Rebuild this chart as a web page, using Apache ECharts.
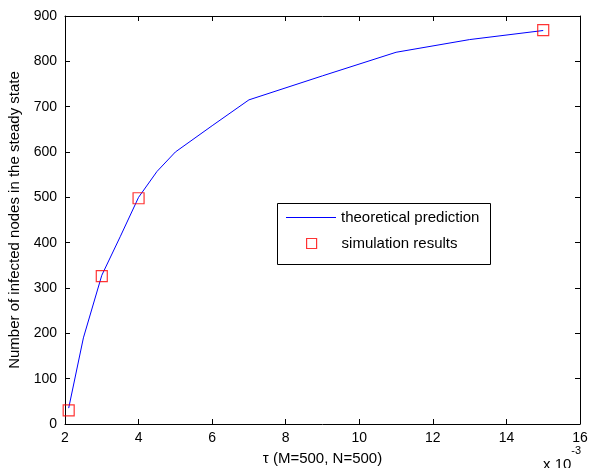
<!DOCTYPE html>
<html>
<head>
<meta charset="utf-8">
<script src="https://cdn.jsdelivr.net/npm/echarts@6/dist/echarts.min.js"></script>
<style>
  html, body { margin: 0; padding: 0; background: #fff; }
  #chart { width: 590px; height: 468px; }
</style>
</head>
<body>
<div id="chart"></div>
<script>
// theoretical curve (tau in units of 1e-3)
const theoryTau = [2.1, 2.5, 3, 3.5, 4, 4.5, 5, 6, 7, 9, 11, 13, 15]
const theoryVal = [35, 190, 328, 413, 500, 557, 600, 658, 715, 768, 820, 848, 868]
// simulation points
const simTau = [2.1, 3, 4, 15]
const simVal = [30, 326, 498, 869]
const xTicks = [2, 4, 6, 8, 10, 12, 14, 16]

const font = 'Liberation Sans, Arial, sans-serif'
const chart = echarts.init(document.getElementById('chart'))

const axisCommon = {
  axisLine: { show: true, onZero: false, lineStyle: { color: '#000', width: 1 } },
  axisTick: { show: true, inside: true, length: 5, lineStyle: { color: '#000' } },
  splitLine: { show: false }
}

const legendText = { fontFamily: font, fontSize: 15, color: '#000' }

const option = {
  animation: false,
  backgroundColor: '#fff',
  grid: { left: 65, right: 10, top: 16, bottom: 44, containLabel: false, outerBoundsMode: 'none' },
  xAxis: [
    Object.assign({
      type: 'value', min: 2, max: 16, interval: 2, position: 'bottom',
      name: 'τ (M=500, N=500)', nameLocation: 'middle', nameGap: 27,
      nameTextStyle: { fontFamily: font, fontSize: 15, color: '#000' },
      axisLabel: { fontFamily: font, fontSize: 14, color: '#000', margin: 7,
        formatter: v => xTicks.includes(v) ? String(v) : '' }
    }, axisCommon),
    Object.assign({
      type: 'value', min: 2, max: 16, interval: 2, position: 'top',
      axisLabel: { show: false }
    }, axisCommon)
  ],
  yAxis: [
    Object.assign({
      type: 'value', min: 0, max: 900, interval: 100, position: 'left',
      name: 'Number of infected nodes in the steady state', nameLocation: 'middle', nameGap: 31,
      nameTextStyle: { fontFamily: font, fontSize: 15, color: '#000' },
      axisLabel: { fontFamily: font, fontSize: 14, color: '#000', margin: 8 }
    }, axisCommon),
    Object.assign({
      type: 'value', min: 0, max: 900, interval: 100, position: 'right',
      axisLabel: { show: false }
    }, axisCommon)
  ],
  legend: [
    {
      left: 286, top: 210, padding: 0,
      itemWidth: 50, itemHeight: 14,
      textStyle: legendText,
      data: [{ name: 'theoretical prediction', icon: 'path://M0,0 L50,0 L50,1 L0,1 Z',
        itemStyle: { color: '#0000ff', borderWidth: 0 } }]
    },
    {
      left: 306, top: 236, padding: 0,
      itemWidth: 10, itemHeight: 10,
      textStyle: Object.assign({ padding: [0, 0, 0, 20] }, legendText),
      data: [{ name: 'simulation results', icon: 'rect',
        itemStyle: { color: 'rgba(0,0,0,0)', borderColor: '#ff0000', borderWidth: 1.2 } }]
    }
  ],
  graphic: [
    {
      type: 'rect', shape: { x: 277.5, y: 203.5, width: 213, height: 61 },
      style: { fill: '#fff', stroke: '#000', lineWidth: 1 }, z: 0
    },
    {
      type: 'text', left: 543, top: 445,
      style: {
        text: '{a|x 10}{b|-3}', fill: '#000',
        rich: {
          a: { fontFamily: font, fontSize: 15, padding: [12, 0, 0, 0] },
          b: { fontFamily: font, fontSize: 11, verticalAlign: 'top' }
        }
      }
    }
  ],
  series: [
    {
      name: 'theoretical prediction', type: 'line',
      data: theoryTau.map((t, i) => [t, theoryVal[i]]),
      showSymbol: false, symbol: 'none',
      lineStyle: { color: '#0000ff', width: 1 },
      itemStyle: { color: '#0000ff' }
    },
    {
      name: 'simulation results', type: 'scatter',
      data: simTau.map((t, i) => [t, simVal[i]]),
      symbol: 'rect', symbolSize: 11,
      itemStyle: { color: 'rgba(0,0,0,0)', borderColor: '#ff0000', borderWidth: 1.2 },
      z: 3
    }
  ]
}
chart.setOption(option)
</script>
</body>
</html>
